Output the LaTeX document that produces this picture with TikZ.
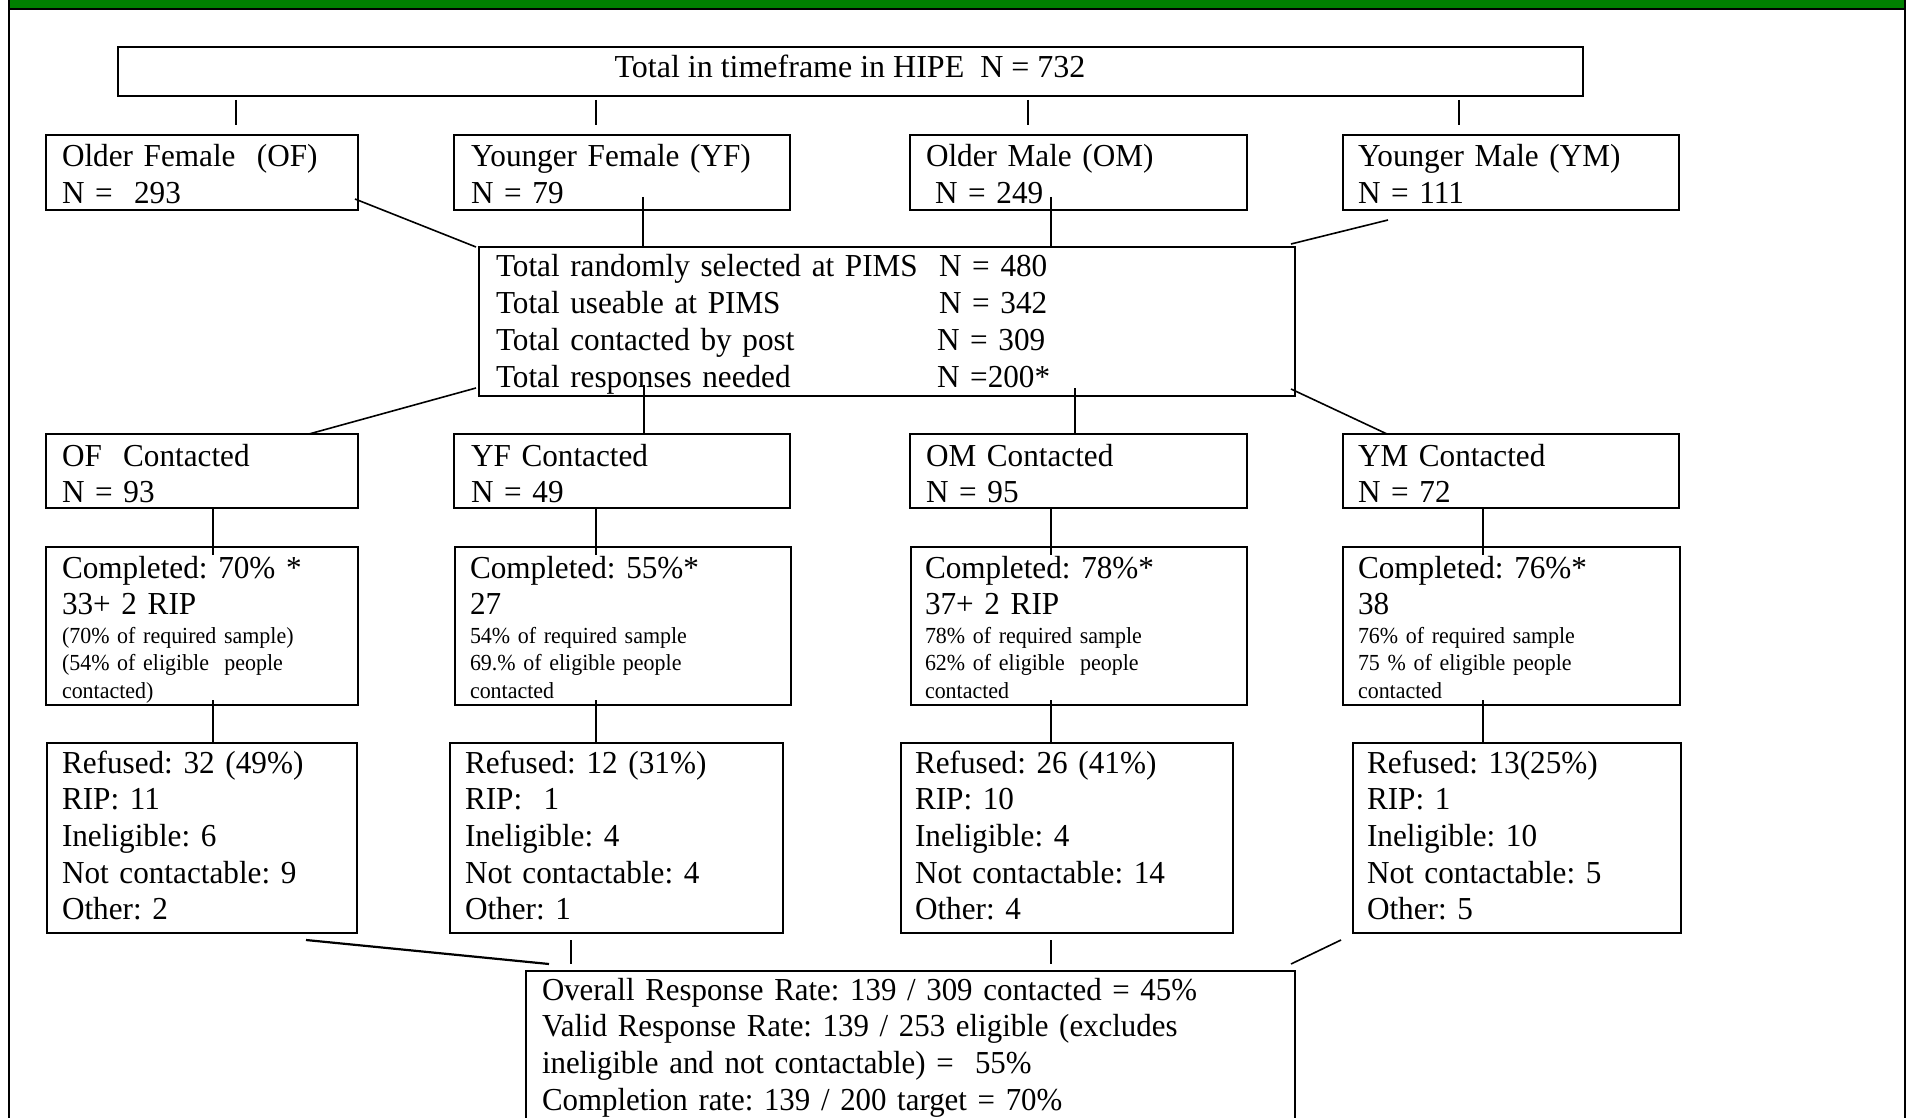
\documentclass[tikz,border=0pt]{standalone}
\usepackage{fontspec}
\setmainfont{Liberation Serif}
\newfontfamily\bodyfont[FakeStretch=0.975]{Liberation Serif}
\newfontfamily\botfont[FakeStretch=0.965]{Liberation Serif}
\newfontfamily\smallfont[FakeStretch=0.955]{Liberation Serif}
\usetikzlibrary{calc}
\definecolor{bargreen}{RGB}{0,128,0}
\begin{document}
\frenchspacing
\begin{tikzpicture}[x=0.5pt,y=-0.5pt,
  box/.style={draw, line width=1.2pt, anchor=north west, inner sep=0pt, outer sep=0pt},
  conn/.style={line width=0.8pt},
  txt/.style={anchor=base west, inner sep=0pt, outer sep=0pt, align=left, text width=400pt,
    font=\bodyfont\fontsize{16}{18.35}\selectfont\frenchspacing},
  small/.style={anchor=base west, inner sep=0pt, outer sep=0pt, align=left, text width=300pt,
    font=\smallfont\fontsize{11.5}{13.75}\selectfont\frenchspacing}
]
\useasboundingbox (0,0) rectangle (1906,1118);
\clip (0,0) rectangle (1906,1118);

% frame
\fill[bargreen] (10,0) rectangle (1904,8);
\draw[line width=1pt] (9,9) -- (1904,9);
\draw[line width=1pt] (8.7,0) -- (8.7,1118);
\draw[line width=1pt] (1905,0) -- (1905,1118);

% x positions for connectors
\coordinate (c1) at (236,0);
\coordinate (c2) at (596,0);
\coordinate (c3) at (1028,0);
\coordinate (c4) at (1459,0);
\coordinate (c5) at (643,0);
\coordinate (c6) at (1051,0);
\coordinate (c7) at (644,0);
\coordinate (c8) at (1075,0);
\coordinate (c9) at (213,0);
\coordinate (c10) at (596,0);
\coordinate (c11) at (1051,0);
\coordinate (c12) at (1483,0);
\coordinate (c13) at (571,0);
\coordinate (c14) at (1051,0);

% top box
\node[box, minimum width=732.5pt, minimum height=24.5pt] (top) at (118,47) {};
\node[anchor=base, inner sep=0pt, font=\fontsize{16}{18.35}\selectfont\frenchspacing] (topt) at (850,78) {Total in timeframe in HIPE~ N = 732};

% row 1
\node[box, minimum width=156pt, minimum height=37.5pt] (of1) at (46,135) {};
\node[box, minimum width=168pt, minimum height=37.5pt] (yf1) at (454,135) {};
\node[box, minimum width=168.5pt, minimum height=37.5pt] (om1) at (910,135) {};
\node[box, minimum width=168pt, minimum height=37.5pt] (ym1) at (1343,135) {};
\node[txt] (of1t) at (62,167) {Older Female~ (OF)\\N =~ 293};
\node[txt] (yf1t) at (471,167) {Younger Female (YF)\\N = 79};
\node[txt] (om1t) at (926,167) {Older Male (OM)\\\hspace*{4.5pt}N = 249};
\node[txt] (ym1t) at (1358,167) {Younger Male (YM)\\N = 111};

% PIMS box
\node[box, minimum width=408pt, minimum height=74.5pt] (pims) at (479,247) {};
\node[txt] (pimst) at (496,277) {\makebox[221.5pt][l]{Total randomly selected at PIMS}N = 480\\
\makebox[221.5pt][l]{Total useable at PIMS}N = 342\\
\makebox[220.5pt][l]{Total contacted by post}N = 309\\
\makebox[220.5pt][l]{Total responses needed}N =200*};

% row 2
\node[box, minimum width=156pt, minimum height=37pt] (of2) at (46,434) {};
\node[box, minimum width=168pt, minimum height=37pt] (yf2) at (454,434) {};
\node[box, minimum width=168.5pt, minimum height=37pt] (om2) at (910,434) {};
\node[box, minimum width=168pt, minimum height=37pt] (ym2) at (1343,434) {};
\node[txt] (of2t) at (62,466) {OF~ Contacted\\N = 93};
\node[txt] (yf2t) at (471,466) {YF Contacted\\N = 49};
\node[txt] (om2t) at (926,466) {OM Contacted\\N = 95};
\node[txt] (ym2t) at (1358,466) {YM Contacted\\N = 72};

% row 3
\node[box, minimum width=156pt, minimum height=79pt] (of3) at (46,547) {};
\node[box, minimum width=168pt, minimum height=79pt] (yf3) at (455,547) {};
\node[box, minimum width=168pt, minimum height=79pt] (om3) at (911,547) {};
\node[box, minimum width=168.5pt, minimum height=79pt] (ym3) at (1343,547) {};
\node[txt] (of3t) at (62,578) {Completed: 70\% *\\33+ 2 RIP};
\node[small] (of3s) at (62,643) {(70\% of required sample)\\(54\% of eligible~ people\\contacted)};
\node[txt] (yf3t) at (470,578) {Completed: 55\%*\\27};
\node[small] (yf3s) at (470,643) {54\% of required sample\\69.\% of eligible people\\contacted};
\node[txt] (om3t) at (925,578) {Completed: 78\%*\\37+ 2 RIP};
\node[small] (om3s) at (925,643) {78\% of required sample\\62\% of eligible~ people\\contacted};
\node[txt] (ym3t) at (1358,578) {Completed: 76\%*\\38};
\node[small] (ym3s) at (1358,643) {76\% of required sample\\75 \% of eligible people\\contacted};

% row 4
\node[box, minimum width=155pt, minimum height=95pt] (of4) at (47,743) {};
\node[box, minimum width=166.5pt, minimum height=95pt] (yf4) at (450,743) {};
\node[box, minimum width=166pt, minimum height=95pt] (om4) at (901,743) {};
\node[box, minimum width=164pt, minimum height=95pt] (ym4) at (1353,743) {};
\node[txt] (of4t) at (62,773) {Refused: 32 (49\%)\\RIP: 11\\Ineligible: 6\\Not contactable: 9\\Other: 2};
\node[txt] (yf4t) at (465,773) {Refused: 12 (31\%)\\RIP:~ 1\\Ineligible: 4\\Not contactable: 4\\Other: 1};
\node[txt] (om4t) at (915,773) {Refused: 26 (41\%)\\RIP: 10\\Ineligible: 4\\Not contactable: 14\\Other: 4};
\node[txt] (ym4t) at (1367,773) {Refused: 13(25\%)\\RIP: 1\\Ineligible: 10\\Not contactable: 5\\Other: 5};

% bottom box
\node[box, minimum width=384.5pt, minimum height=100pt] (bot) at (526,971) {};
\node[txt, font=\botfont\fontsize{16}{18.35}\selectfont\frenchspacing] (bott) at (542,1000) {Overall Response Rate: 139 / 309 contacted = 45\%\\
Valid Response Rate: 139 / 253 eligible (excludes\\
ineligible and not contactable) =~ 55\%\\
Completion rate: 139 / 200 target = 70\%};

% connectors: top -> row 1
\draw[conn, shorten <=2pt, shorten >=5pt] (top.south -| c1) -- (of1.north -| c1);
\draw[conn, shorten <=2pt, shorten >=5pt] (top.south -| c2) -- (yf1.north -| c2);
\draw[conn, shorten <=2pt, shorten >=5pt] (top.south -| c3) -- (om1.north -| c3);
\draw[conn, shorten <=2pt, shorten >=5pt] (top.south -| c4) -- (ym1.north -| c4);

% row 1 -> PIMS
\draw[conn] ([xshift=-1.5pt,yshift=5.5pt]of1.south east) -- ([xshift=-1.5pt]pims.north west);
\draw[conn, shorten <=-6.5pt] (yf1.south -| c5) -- (pims.north -| c5);
\draw[conn, shorten <=-6.5pt] (om1.south -| c6) -- (pims.north -| c6);
\draw[conn] ([xshift=22.5pt,yshift=-5pt]ym1.south west) -- ([xshift=-2pt,yshift=1.5pt]pims.north east);

% PIMS -> row 2
\draw[conn] ([xshift=-1.5pt,yshift=4pt]pims.south west) -- ([xshift=131.5pt]of2.north west);
\draw[conn, shorten <=-5.5pt] (pims.south -| c7) -- (yf2.north -| c7);
\draw[conn, shorten <=-4pt] (pims.south -| c8) -- (om2.north -| c8);
\draw[conn] ([xshift=-2pt,yshift=3.5pt]pims.south east) -- ([xshift=22pt]ym2.north west);

% row 2 -> row 3
\draw[conn, shorten >=-4pt] (of2.south -| c9) -- (of3.north -| c9);
\draw[conn, shorten >=-4pt] (yf2.south -| c10) -- (yf3.north -| c10);
\draw[conn, shorten >=-4pt] (om2.south -| c11) -- (om3.north -| c11);
\draw[conn, shorten >=-4pt] (ym2.south -| c12) -- (ym3.north -| c12);

% row 3 -> row 4
\draw[conn, shorten <=-2.5pt] (of3.south -| c9) -- (of4.north -| c9);
\draw[conn, shorten <=-2.5pt] (yf3.south -| c10) -- (yf4.north -| c10);
\draw[conn, shorten <=-2.5pt] (om3.south -| c11) -- (om4.north -| c11);
\draw[conn, shorten <=-2.5pt] (ym3.south -| c12) -- (ym4.north -| c12);

% row 4 -> bottom
\draw[conn, line width=1.1pt] ([xshift=129.5pt,yshift=-3.5pt]of4.south west) -- ([xshift=11.5pt,yshift=3.5pt]bot.north west);
\draw[conn, shorten <=3.5pt, shorten >=3.5pt] (yf4.south -| c13) -- (bot.north -| c13);
\draw[conn, shorten <=3.5pt, shorten >=3.5pt] (om4.south -| c14) -- (bot.north -| c14);
\draw[conn] ([xshift=-6pt,yshift=-3.5pt]ym4.south west) -- ([xshift=-2pt,yshift=3.5pt]bot.north east);
\end{tikzpicture}
\end{document}
